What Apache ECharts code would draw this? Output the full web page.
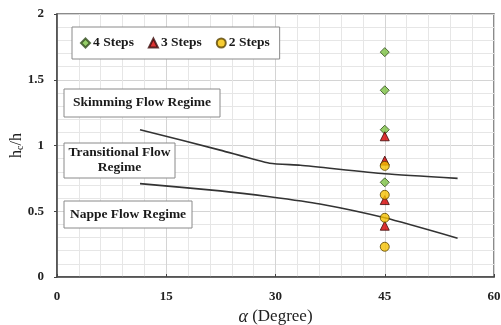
<!DOCTYPE html>
<html>
<head>
<meta charset="utf-8">
<script src="https://cdn.jsdelivr.net/npm/echarts@6/dist/echarts.min.js"></script>
<style>html,body{margin:0;padding:0;background:#fff;}#c{width:501px;height:325px;}</style>
</head>
<body>
<div id="c"></div>
<script>
var xTicks = [0, 15, 30, 45, 60];
var yTicks = [0, 0.5, 1, 1.5, 2];
var steps4 = [[45, 1.71], [45, 1.42], [45, 1.12], [45, 0.72]];
var steps3 = [[45, 1.07], [45, 0.885], [45, 0.585], [45, 0.39]];
var steps2 = [[45, 0.845], [45, 0.625], [45, 0.45], [45, 0.23]];
var upperBoundary = [[11.4, 1.12], [22.4, 0.965], [29.2, 0.865], [33.4, 0.85], [45, 0.785], [55, 0.75]];
var lowerBoundary = [[11.4, 0.71], [22.4, 0.655], [29.2, 0.61], [36.1, 0.555], [45, 0.45], [55, 0.295]];
var regimeLabels = ['Skimming Flow Regime', 'Transitional Flow\nRegime', 'Nappe Flow Regime'];

var serif = 'Liberation Serif';
var chart = echarts.init(document.getElementById('c'));
function box(text, left, top, w, h) {
  return {
    type: 'group', x: left, y: top, z: 100,
    children: [
      {type: 'rect', z: 100, shape: {x: 0, y: 0, width: w, height: h},
       style: {fill: '#fff', stroke: '#8a8a8a', lineWidth: 1}},
      {type: 'text', z: 101, x: w / 2, y: h / 2,
       style: {text: text, fill: '#1a1a1a', font: 'bold 13.5px "Liberation Serif"',
               align: 'center', verticalAlign: 'middle', lineHeight: 15}}
    ]
  };
}
var option = {
  animation: false,
  backgroundColor: '#fff',
  grid: {left: 57, right: 7, top: 14, bottom: 48, show: true, borderColor: '#666', borderWidth: 1.5,
         containLabel: false, outerBoundsMode: 'none'},
  legend: {
    left: 72, top: 27, padding: [9, 10, 9, 8], itemGap: 14,
    borderColor: '#8a8a8a', borderWidth: 1, backgroundColor: '#fff',
    itemWidth: 9, itemHeight: 9,
    textStyle: {fontFamily: serif, fontWeight: 'bold', fontSize: 13.5, color: '#1a1a1a', padding: [0, 0, 0, -2]},
    data: [
      {name: '4 Steps', icon: 'diamond'},
      {name: '3 Steps', icon: 'triangle'},
      {name: '2 Steps', icon: 'circle'}
    ]
  },
  xAxis: {
    type: 'value', min: xTicks[0], max: xTicks[xTicks.length - 1], interval: 15,
    name: '{i|α} (Degree)', nameLocation: 'middle', nameGap: 25,
    nameTextStyle: {fontFamily: serif, fontSize: 17, color: '#222', verticalAlign: 'top',
      rich: {i: {fontFamily: serif, fontStyle: 'italic', fontSize: 18, color: '#222'}}},
    axisLine: {show: true, onZero: false, lineStyle: {color: '#444', width: 1.5}},
    axisTick: {show: true, inside: true, length: 3, lineStyle: {color: '#444'}},
    axisLabel: {fontFamily: serif, fontWeight: 'bold', fontSize: 13, color: '#222', margin: 13},
    splitLine: {show: true, lineStyle: {color: '#d4d4d4', width: 1}},
    minorTick: {show: false, splitNumber: 5},
    minorSplitLine: {show: true, lineStyle: {color: '#e6e6e6', width: 1}}
  },
  yAxis: {
    type: 'value', min: yTicks[0], max: yTicks[yTicks.length - 1], interval: 0.5,
    name: 'h{s|c}/h', nameLocation: 'middle', nameGap: 32, nameRotate: 90, nameMoveOverlap: false,
    nameTextStyle: {fontFamily: serif, fontSize: 16, color: '#222',
      rich: {s: {fontFamily: serif, fontSize: 10, color: '#222', verticalAlign: 'bottom', padding: [7, 0, 0, 0]}}},
    axisLine: {show: true, onZero: false, lineStyle: {color: '#444', width: 1.5}},
    axisTick: {show: true, length: 3, lineStyle: {color: '#444'}},
    axisLabel: {fontFamily: serif, fontWeight: 'bold', fontSize: 13, color: '#222', margin: 13},
    splitLine: {show: true, lineStyle: {color: '#d4d4d4', width: 1}},
    minorTick: {show: false, splitNumber: 5},
    minorSplitLine: {show: true, lineStyle: {color: '#e6e6e6', width: 1}}
  },
  series: [
    {type: 'line', name: 'upper', data: upperBoundary, symbol: 'none', smooth: 0.2,
     lineStyle: {color: '#333', width: 1.6}, z: 3, silent: true},
    {type: 'line', name: 'lower', data: lowerBoundary, symbol: 'none', smooth: 0.2,
     lineStyle: {color: '#333', width: 1.6}, z: 3, silent: true},
    {type: 'scatter', name: '4 Steps', data: steps4, symbol: 'diamond', symbolSize: 9,
     itemStyle: {color: '#7cc242', borderColor: '#2f4a1c', borderWidth: 1}, z: 5},
    {type: 'scatter', name: '3 Steps', data: steps3, symbol: 'triangle', symbolSize: 9,
     itemStyle: {color: '#d40000', borderColor: '#3a0a0a', borderWidth: 1}, z: 5},
    {type: 'scatter', name: '2 Steps', data: steps2, symbol: 'circle', symbolSize: 9,
     itemStyle: {color: '#f5c000', borderColor: '#5a4400', borderWidth: 1}, z: 6}
  ],
  graphic: [
    box(regimeLabels[0], 64, 89, 156, 28),
    box(regimeLabels[1], 64, 143, 111, 35),
    box(regimeLabels[2], 64, 201, 128, 27)
  ]
};
chart.setOption(option);
</script>
</body>
</html>
